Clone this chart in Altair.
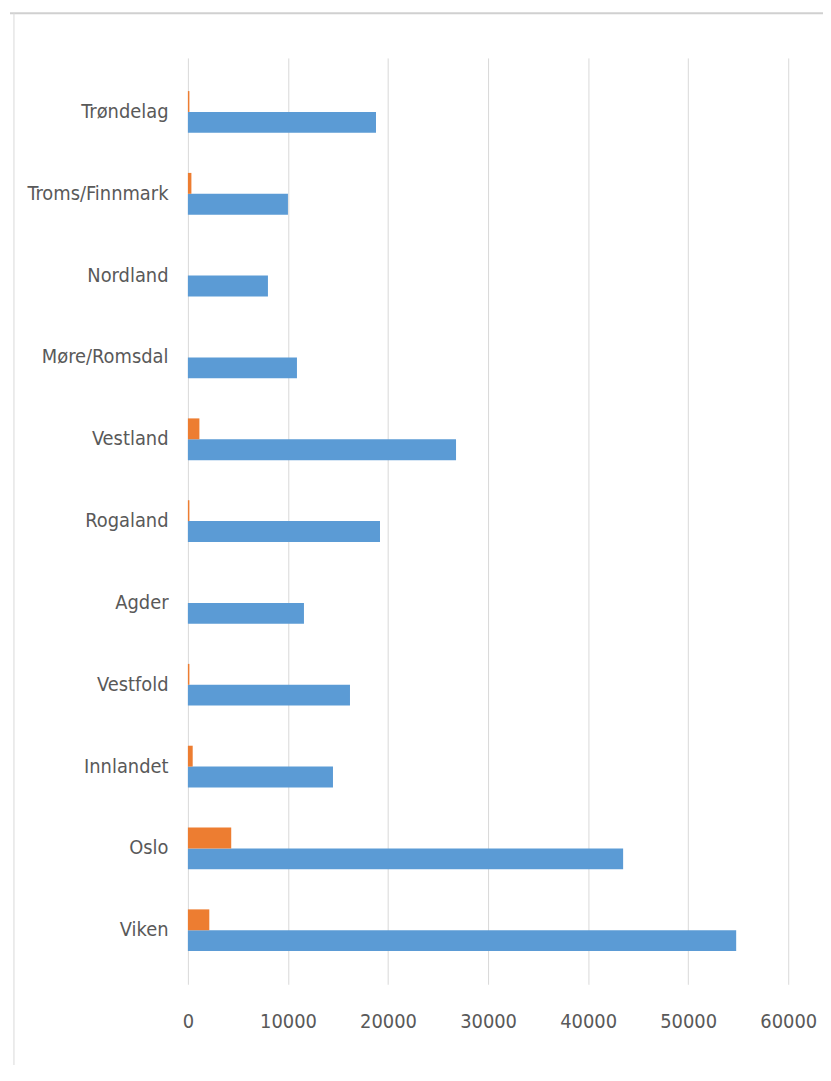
import altair as alt
import pandas as pd

regions = ["Trøndelag", "Troms/Finnmark", "Nordland", "Møre/Romsdal", "Vestland",
           "Rogaland", "Agder", "Vestfold", "Innlandet", "Oslo", "Viken"]
series1 = [18800, 10000, 8000, 10900, 26800, 19200, 11600, 16200, 14500, 43500, 54800]
series2 = [150, 350, 0, 0, 1150, 150, 0, 150, 480, 4330, 2140]

rows = []
for r, a, b in zip(regions, series1, series2):
    rows.append({"region": r, "series": "Serie1", "value": a})
    rows.append({"region": r, "series": "Serie2", "value": b})
df = pd.DataFrame(rows)

font = "Liberation Sans Narrow, DejaVu Sans Condensed, Roboto Condensed, Roboto, sans-serif"

bars = alt.Chart(df).mark_bar().encode(
    x=alt.X("value:Q",
            scale=alt.Scale(domain=[0, 60000], nice=False),
            axis=alt.Axis(values=[0, 10000, 20000, 30000, 40000, 50000, 60000],
                          title=None, grid=True, gridColor="#D9D9D9", gridWidth=1,
                          ticks=False, domain=False, labelFont=font, labelFontSize=20,
                          labelColor="#595959", labelPadding=28, format="d",
                          labelFlush=False)),
    y=alt.Y("region:N", sort=regions,
            scale=alt.Scale(paddingInner=0.49, paddingOuter=0.405),
            axis=alt.Axis(title=None, ticks=False, domain=False, labelFont=font,
                          labelFontSize=20, labelColor="#595959", labelPadding=20,
                          labelLimit=300)),
    yOffset=alt.YOffset("series:N", sort=["Serie2", "Serie1"]),
    color=alt.Color("series:N",
                    scale=alt.Scale(domain=["Serie1", "Serie2"],
                                    range=["#5B9BD5", "#ED7D31"]),
                    legend=None),
)

# chart-area frame (Excel chart border)
frame_top = alt.Chart().mark_rule(color="#D0D0D0", strokeWidth=2).encode(
    x=alt.value(-179), x2=alt.value(660), y=alt.value(-45))
frame_left = alt.Chart().mark_rule(color="#D9D9D9", strokeWidth=1).encode(
    x=alt.value(-175), y=alt.value(-45), y2=alt.value(1040))

chart = alt.layer(bars, frame_top, frame_left).properties(
    width=604,
    height=932,
    background="white",
    autosize=alt.AutoSizeParams(type="none"),
    padding={"left": 181, "top": 47, "right": 35, "bottom": 78},
).configure_view(stroke=None)

chart.save("out.html", embed_options={"renderer": "svg", "actions": False})
